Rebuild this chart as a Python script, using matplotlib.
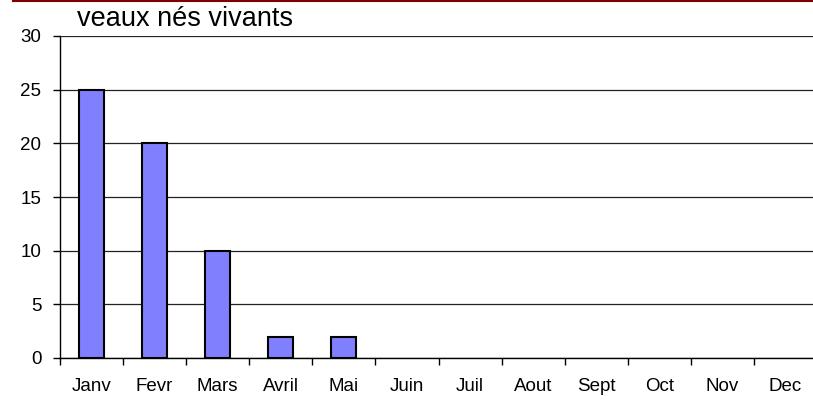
import matplotlib
matplotlib.use("Agg")
import matplotlib.pyplot as plt
import numpy as np
from matplotlib.lines import Line2D

months = ["Janv", "Fevr", "Mars", "Avril", "Mai", "Juin", "Juil", "Aout", "Sept", "Oct", "Nov", "Dec"]
values = [25, 20, 10, 2, 2, 0, 0, 0, 0, 0, 0, 0]
yticks = [0, 5, 10, 15, 20, 25, 30]
title = "veaux nés vivants"

plt.rcParams['font.family'] = ['Liberation Sans', 'DejaVu Sans']

W, H = 813, 400
fig = plt.figure(figsize=(W / 100, H / 100), dpi=100)
left, right, top, bottom = 60, 817, 36, 358
ax = fig.add_axes([left / W, 1 - bottom / H, (right - left) / W, (bottom - top) / H])

x = np.arange(len(months))
edge_lw = [1.5 if v > 0 else 0 for v in values]
ax.bar(x, values, width=0.4, color="#8080FF", edgecolor="black", linewidth=edge_lw, zorder=3)

ax.set_xlim(-0.5, len(months) - 0.5)
ax.set_ylim(0, 30)
ax.set_yticks(yticks)
ax.set_yticklabels([str(v) for v in yticks], fontsize=13.5)
ax.yaxis.grid(True, color="#222222", linewidth=0.9, zorder=0)
ax.set_axisbelow(True)

ax.set_xticks(x)
ax.set_xticklabels(months, fontsize=13.5)
ax.tick_params(axis="x", which="major", length=0, pad=14.5)
ax.set_xticks(np.arange(-0.5, len(months), 1.0), minor=True)
ax.tick_params(axis="x", which="minor", length=5, width=1, color="black", direction="out")
ax.tick_params(axis="y", length=5, width=1, color="black", direction="out", pad=8.5)

for s in ["top", "right"]:
    ax.spines[s].set_visible(False)
ax.spines["left"].set_color("black")
ax.spines["bottom"].set_color("black")
ax.spines["left"].set_linewidth(1)
ax.spines["bottom"].set_linewidth(1)

fig.text(77 / W, 1 - 25.5 / H, title, fontsize=19.5, ha="left", va="baseline")

fig.add_artist(Line2D([13 / W, 1.0], [1 - 0.8 / H, 1 - 0.8 / H], color="#800000", linewidth=1.5, transform=fig.transFigure))

fig.savefig("out.png", dpi=100)
